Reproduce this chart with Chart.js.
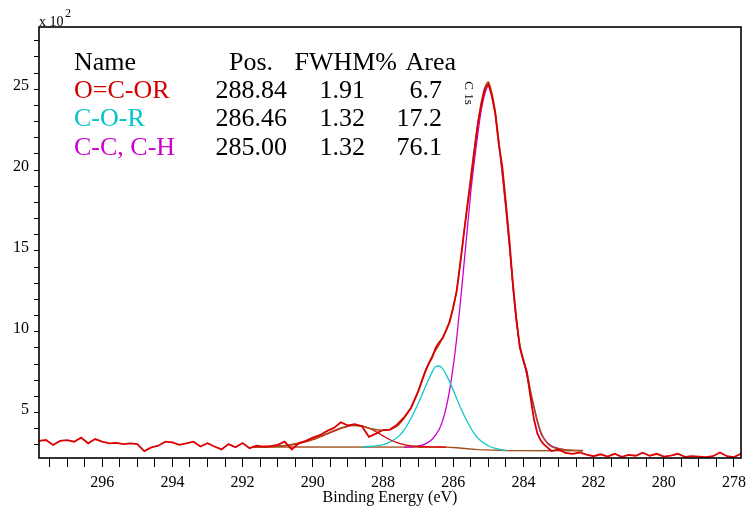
<!DOCTYPE html>
<html>
<head>
<meta charset="utf-8">
<script src="https://cdn.jsdelivr.net/npm/chart.js@4.4.1/dist/chart.umd.min.js"></script>
<style>
  html, body { margin: 0; padding: 0; background: #fff; }
  canvas { display: block; }
</style>
</head>
<body>
<canvas id="c1s" width="747" height="508"></canvas>
<script>
// raw C 1s spectrum, binding energy (eV) and counts (x 10^2)
const rawE = [
  297.8, 297.6, 297.4, 297.2, 297.0, 296.8, 296.6, 296.4, 296.2, 296.0,
  295.8, 295.6, 295.4, 295.2, 295.0, 294.8, 294.6, 294.4, 294.2, 294.0,
  293.8, 293.6, 293.4, 293.2, 293.0, 292.8, 292.6, 292.4, 292.2, 292.0,
  291.8, 291.6, 291.4, 291.2, 291.0, 290.8, 290.6, 290.4, 290.2, 290.0,
  289.8, 289.6, 289.4, 289.2, 289.0, 288.8, 288.6, 288.4, 288.2, 288.0,
  287.8, 287.6, 287.4, 287.2, 287.0, 286.8,
  286.7, 286.6, 286.5, 286.4, 286.3, 286.2, 286.1, 286.0, 285.9, 285.8,
  285.7, 285.6, 285.5, 285.4, 285.3, 285.2, 285.1, 285.0, 284.9, 284.8,
  284.7, 284.6, 284.5, 284.4, 284.3, 284.2, 284.1, 284.0, 283.9, 283.8,
  283.7, 283.6, 283.5, 283.4,
  283.2, 283.0, 282.8, 282.6, 282.4, 282.2, 282.0, 281.8, 281.6, 281.4,
  281.2, 281.0, 280.8, 280.6, 280.4, 280.2, 280.0, 279.8, 279.6, 279.4,
  279.2, 279.0, 278.8, 278.6, 278.4, 278.2, 278.0, 277.8
];
const rawI = [
  3.25, 3.3, 3.0, 3.25, 3.3, 3.2, 3.45, 3.1, 3.36, 3.2,
  3.1, 3.12, 3.05, 3.1, 3.05, 2.62, 2.85, 2.95, 3.2, 3.15,
  3.0, 3.1, 3.2, 2.9, 3.1, 2.9, 2.72, 3.05, 2.85, 3.12,
  2.8, 2.95, 2.9, 2.92, 3.0, 3.2, 2.72, 3.1, 3.25, 3.45,
  3.6, 3.85, 4.05, 4.4, 4.2, 4.28, 4.15, 3.5, 3.7, 3.92,
  3.95, 4.25, 4.7, 5.3, 6.3, 7.5,
  8.0, 8.4, 9.0, 9.35, 9.6, 10.1, 10.6, 11.5, 12.5, 14.2,
  16.0, 17.7, 19.3, 21.1, 22.8, 24.0, 25.0, 25.35, 24.6, 23.5,
  21.6, 20.2, 18.0, 15.7, 13.0, 10.8, 9.0, 8.2, 7.5, 6.0,
  4.6, 3.7, 3.25, 3.0,
  2.62, 2.72, 2.5, 2.45, 2.53, 2.4, 2.3, 2.42, 2.28, 2.45,
  2.26, 2.38, 2.33, 2.52, 2.33, 2.45, 2.28, 2.33, 2.45, 2.26,
  2.3, 2.28, 2.25, 2.3, 2.53, 2.3, 2.25, 2.45
];

// fitted envelope
const envE = [
  291.7, 291.2, 290.8, 290.4, 290.0, 289.6, 289.2, 288.9, 288.6, 288.3,
  288.0, 287.8, 287.6, 287.4, 287.2, 287.0, 286.8, 286.6, 286.4, 286.2,
  286.1, 286.0, 285.9, 285.8, 285.7, 285.6, 285.5, 285.4, 285.3, 285.2,
  285.1, 285.0, 284.9, 284.8, 284.7, 284.6, 284.5, 284.4, 284.3, 284.2,
  284.1, 284.0, 283.9, 283.8, 283.7, 283.6, 283.5, 283.4, 283.3, 283.2,
  283.0, 282.8, 282.5, 282.3
];
const envI = [
  2.87, 2.9, 2.96, 3.12, 3.35, 3.7, 4.05, 4.2, 4.15, 3.98,
  3.9, 3.95, 4.15, 4.65, 5.3, 6.3, 7.55, 8.5, 9.2, 10.1,
  10.7, 11.5, 12.6, 14.2, 16.0, 17.8, 19.6, 21.3, 22.9, 24.2,
  25.1, 25.45, 24.8, 23.6, 21.8, 19.9, 17.8, 15.5, 13.0, 10.8,
  9.2, 8.3, 7.5, 6.4, 5.4, 4.5, 3.8, 3.35, 3.05, 2.9,
  2.76, 2.7, 2.66, 2.65
];

// background
const bgE = [291.7, 286.2, 285.9, 285.6, 285.3, 284.9, 284.5, 282.3];
const bgI = [2.87, 2.86, 2.82, 2.76, 2.71, 2.68, 2.65, 2.63];

// O=C-OR component
const ocE = [
  291.7, 291.2, 290.8, 290.4, 290.0, 289.6, 289.2, 289.0, 288.8, 288.6,
  288.4, 288.2, 288.0, 287.8, 287.6, 287.4, 287.2, 287.0, 286.6, 286.2
];
const ocI = [
  2.88, 2.9, 2.95, 3.08, 3.32, 3.66, 4.02, 4.15, 4.22, 4.18,
  4.04, 3.82, 3.56, 3.32, 3.14, 3.02, 2.94, 2.9, 2.88, 2.86
];

// C-O-R component
const coE = [
  288.6, 288.4, 288.2, 288.0, 287.8, 287.6, 287.4, 287.2, 287.0, 286.8,
  286.7, 286.6, 286.5, 286.4, 286.3, 286.2, 286.1, 286.0, 285.8, 285.6,
  285.4, 285.2, 285.0, 284.8, 284.6, 284.5
];
const coI = [
  2.88, 2.9, 2.94, 3.02, 3.18, 3.45, 3.92, 4.65, 5.55, 6.55,
  7.05, 7.5, 7.85, 7.88, 7.72, 7.35, 6.9, 6.4, 5.35, 4.45,
  3.7, 3.22, 2.95, 2.78, 2.69, 2.66
];

// C-C, C-H component
const ccE = [
  287.4, 287.2, 287.0, 286.8, 286.6, 286.4, 286.3, 286.2, 286.1, 286.0,
  285.9, 285.8, 285.7, 285.6, 285.5, 285.4, 285.3, 285.2, 285.1, 285.0,
  284.9, 284.8, 284.7, 284.6, 284.5, 284.4, 284.3, 284.2, 284.1, 284.0,
  283.9, 283.8, 283.7, 283.6, 283.5, 283.4, 283.3, 283.2, 283.1, 283.0,
  282.8
];
const ccI = [
  2.86, 2.88, 2.92, 3.05, 3.35, 3.95, 4.5, 5.3, 6.4, 7.84,
  9.6, 11.7, 14.0, 16.3, 18.6, 20.5, 22.2, 23.7, 24.7, 25.2,
  24.6, 23.4, 21.6, 19.7, 17.6, 15.3, 12.8, 10.6, 9.1, 8.2,
  7.3, 6.2, 5.3, 4.4, 3.7, 3.35, 3.1, 2.95, 2.85, 2.78,
  2.7
];

// fit table
const tableHead = ['Name', 'Pos.', 'FWHM%', 'Area'];
const peakNames = ['O=C-OR', 'C-O-R', 'C-C, C-H'];
const peakPos = ['288.84', '286.46', '285.00'];
const peakFwhm = ['1.91', '1.32', '1.32'];
const peakArea = ['6.7', '17.2', '76.1'];
const peakColors = ['#d40000', '#00c4c8', '#cc00cc'];

// axis ticks
const xTicks = [
  278, 278.5, 279, 279.5, 280, 280.5, 281, 281.5, 282, 282.5,
  283, 283.5, 284, 284.5, 285, 285.5, 286, 286.5, 287, 287.5,
  288, 288.5, 289, 289.5, 290, 290.5, 291, 291.5, 292, 292.5,
  293, 293.5, 294, 294.5, 295, 295.5, 296, 296.5, 297, 297.5
];
const xLabels = [278, 280, 282, 284, 286, 288, 290, 292, 294, 296];
const yTicks = [3, 4, 5, 6, 7, 8, 9, 10, 11, 12, 13, 14, 15, 16, 17, 18, 19, 20, 21, 22, 23, 24, 25, 26, 27, 28];
const yLabels = [5, 10, 15, 20, 25];

const SERIF = '"Liberation Serif", "Times New Roman", serif';
Chart.defaults.font.family = SERIF;
Chart.defaults.color = '#000';

const pts = (e, v) => e.map((x, i) => ({x, y: v[i]}));

function line(data, color, width, smooth) {
  return {
    data,
    borderColor: color,
    borderWidth: width,
    pointRadius: 0,
    showLine: true,
    fill: false,
    tension: 0,
    cubicInterpolationMode: smooth ? 'monotone' : 'default',
  };
}

const overlay = {
  id: 'overlay',
  afterDraw(chart) {
    const {ctx, chartArea: a} = chart;
    ctx.save();
    ctx.strokeStyle = '#000';
    ctx.lineWidth = 1.6;
    ctx.strokeRect(a.left, a.top, a.right - a.left, a.bottom - a.top);

    ctx.fillStyle = '#000';
    ctx.textBaseline = 'alphabetic';
    ctx.textAlign = 'left';
    ctx.font = '14px ' + SERIF;
    ctx.fillText('x 10', 39, 26);
    ctx.font = '12px ' + SERIF;
    ctx.fillText('2', 65, 17);

    ctx.font = '26px ' + SERIF;
    ctx.fillText(tableHead[0], 74, 70);
    ctx.textAlign = 'right';
    ctx.fillText(tableHead[1], 273, 70);
    ctx.fillText(tableHead[2], 397, 70);
    ctx.fillText(tableHead[3], 456, 70);
    const rows = [97.5, 126, 155];
    rows.forEach((y, i) => {
      ctx.textAlign = 'left';
      ctx.fillStyle = peakColors[i];
      ctx.fillText(peakNames[i], 74, y);
      ctx.fillStyle = '#000';
      ctx.textAlign = 'right';
      ctx.fillText(peakPos[i], 287, y);
      ctx.fillText(peakFwhm[i], 365, y);
      ctx.fillText(peakArea[i], 442, y);
    });

    ctx.translate(468, 93);
    ctx.rotate(Math.PI / 2);
    ctx.textAlign = 'center';
    ctx.textBaseline = 'middle';
    ctx.font = '13px ' + SERIF;
    ctx.fillText('C 1s', 0, 0);
    ctx.restore();
  }
};

new Chart(document.getElementById('c1s').getContext('2d'), {
  type: 'scatter',
  data: {
    datasets: [
      line(pts(rawE, rawI), '#dc0000', 1.8, false),
      line(pts(envE, envI), '#a0501e', 1.4, true),
      line(pts(ocE, ocI), '#dc0000', 1.3, true),
      line(pts(coE, coI), '#10c8cc', 1.3, true),
      line(pts(ccE, ccI), '#cc00cc', 1.3, true),
      line(pts(bgE, bgI), '#a0501e', 1.4, false),
    ]
  },
  options: {
    responsive: false,
    animation: false,
    devicePixelRatio: 1,
    layout: { padding: { top: 27, right: 6, left: 0, bottom: 0 } },
    plugins: { legend: { display: false }, tooltip: { enabled: false } },
    scales: {
      x: {
        type: 'linear',
        reverse: true,
        min: 277.8,
        max: 297.8,
        afterBuildTicks: s => { s.ticks = xTicks.map(v => ({value: v})); },
        afterFit: s => { s.height = 50; },
        ticks: {
          autoSkip: false,
          maxRotation: 0,
          padding: 6,
          font: { size: 16 },
          callback: v => (xLabels.includes(v) ? String(v) : ''),
        },
        grid: { drawOnChartArea: false, drawTicks: true, tickLength: 9, color: '#000', lineWidth: 1 },
        border: { display: false },
        title: {
          display: true,
          text: 'Binding Energy (eV)',
          font: { size: 16 },
          padding: { top: 0, bottom: 1 },
        },
      },
      y: {
        min: 2.19,
        max: 28.85,
        afterBuildTicks: s => { s.ticks = yTicks.map(v => ({value: v})); },
        afterFit: s => { s.width = 39; },
        ticks: {
          autoSkip: false,
          padding: 5,
          labelOffset: -3,
          font: { size: 16 },
          callback: v => (yLabels.includes(v) ? String(v) : ''),
        },
        grid: { drawOnChartArea: false, drawTicks: true, tickLength: 5, color: '#000', lineWidth: 1 },
        border: { display: false },
      }
    }
  },
  plugins: [overlay]
});
</script>
</body>
</html>
